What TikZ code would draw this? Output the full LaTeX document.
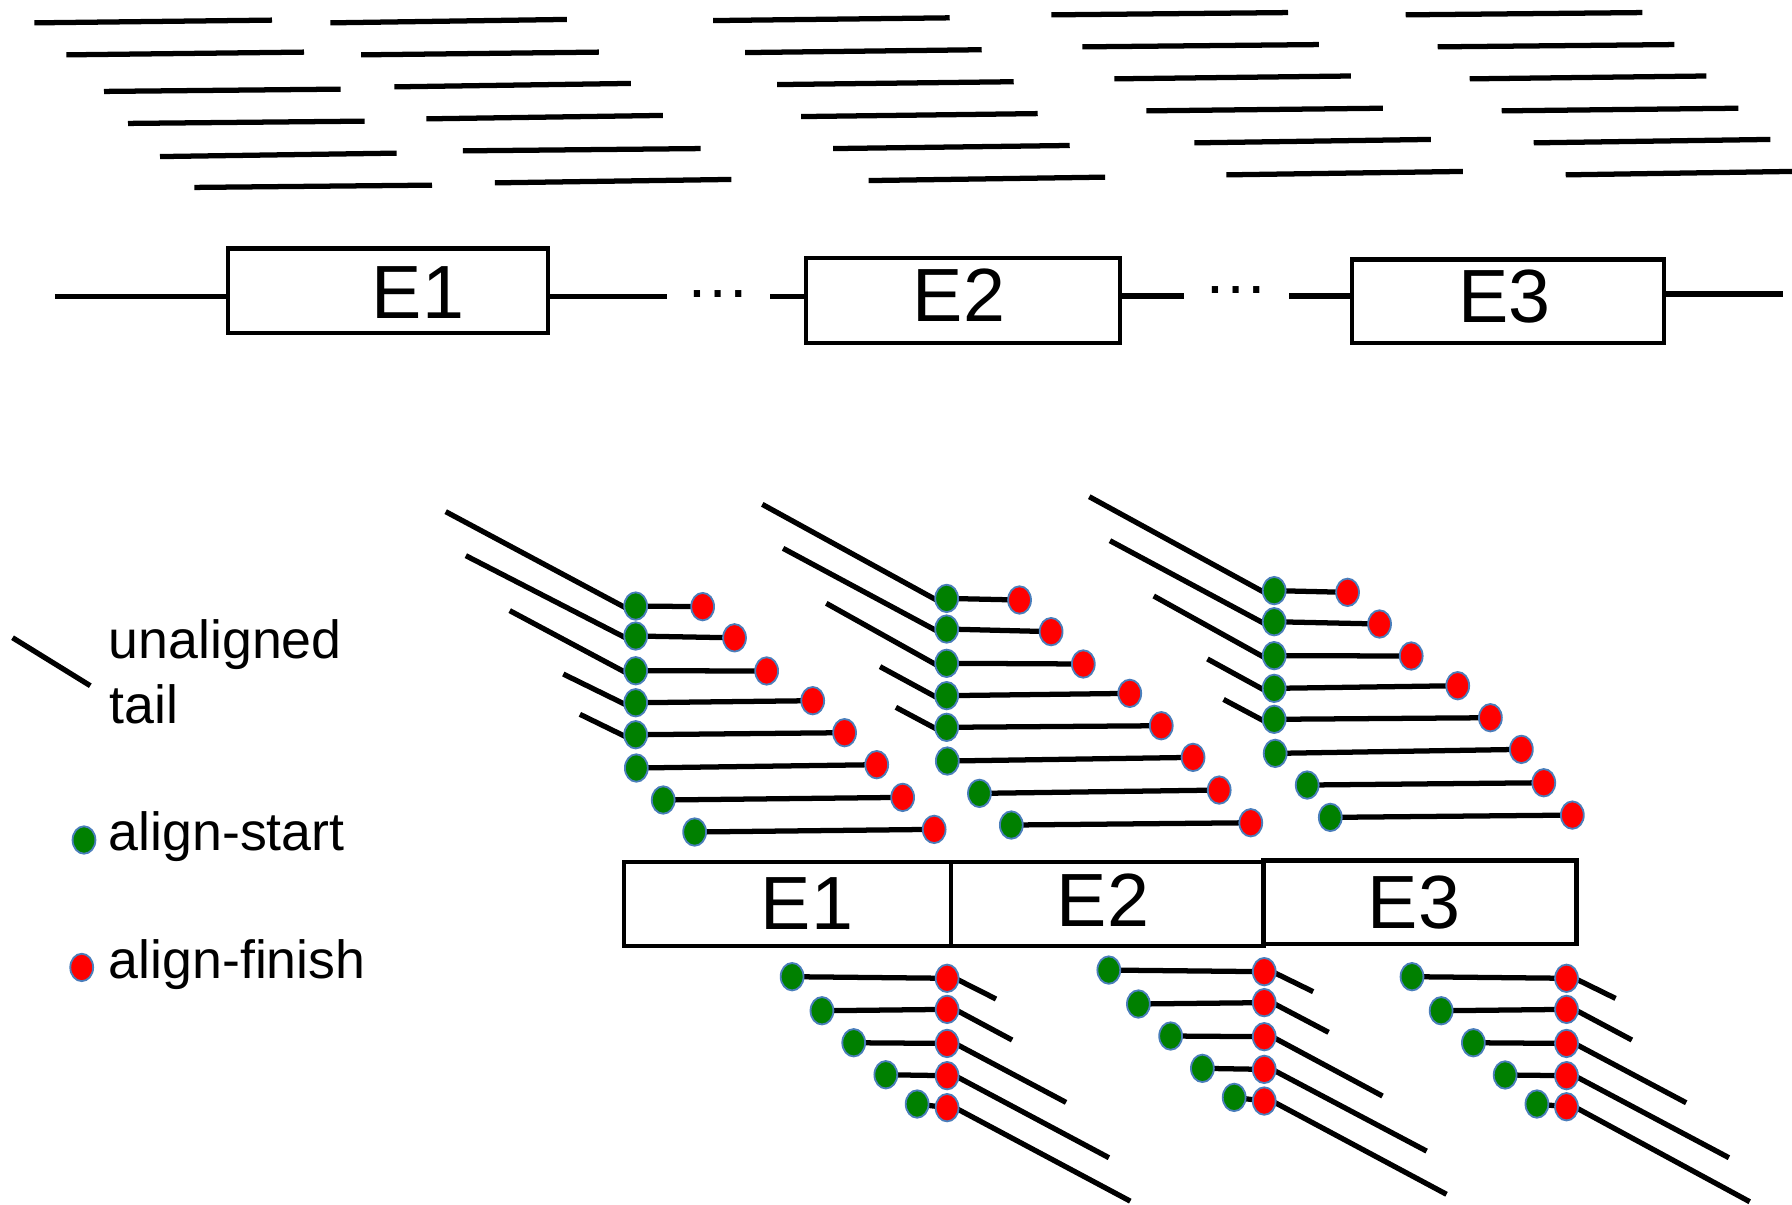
\documentclass[tikz,border=0pt]{standalone}
\usepackage{fontspec}
\setmainfont{Liberation Sans}
\usetikzlibrary{shapes.geometric,backgrounds}
\definecolor{dotgreen}{RGB}{0,128,0}
\definecolor{dotred}{RGB}{255,0,0}
\definecolor{dotrim}{RGB}{74,126,187}
\begin{document}
\begin{tikzpicture}[x=1pt,y=-1pt,
  seg/.style={line width=4.6pt},
  ebox/.style={draw,line width=3.8pt,inner sep=0pt,minimum height=74pt},
  elab/.style={font=\fontsize{66}{70}\selectfont,inner sep=0pt,anchor=base},
  ellip/.style={font=\fontsize{57}{60}\selectfont,inner sep=0pt,anchor=base},
  dotbase/.style={ellipse,draw=dotrim,line width=1.6pt,minimum width=20pt,minimum height=24pt,inner sep=0pt},
  gdot/.style={dotbase,fill=dotgreen},
  rdot/.style={dotbase,fill=dotred},
  legtext/.style={font=\fontsize{47}{57}\selectfont,inner sep=0pt,anchor=base west}]
\useasboundingbox (0,0) rectangle (1568,1054);

% ---------- unaligned reads (top) ----------
\foreach \xa/\ya/\xb/\yb in {
  30/20/238/17.6, 58/48/266/45.6, 91/80/298/78, 112/108/319/106, 140/137/347/134, 170/164/378/162,
  289/20/496/17, 316/48/524/45.6, 345/76/552/73, 373/104/580/101, 405/132/613/130, 433/160/640/157,
  624/18/831/15.6, 652/46/859/43.5, 680/74/887/71.5, 701/102/908/99.4, 729/130/936/127.3, 760/158/967/155,
  920/13/1127/11, 947/41/1154/39, 975/69/1182/66.5, 1003/97/1210/94.7, 1045/125/1252/122, 1073/153/1280/150,
  1230/13/1437/11, 1258/41/1465/39, 1286/69/1493/66.5, 1314/97/1521/94.7, 1342/125/1549/122, 1370/153/1568/150}
  \draw[seg] (\xa,\ya) -- (\xb,\yb);

% ---------- genome line with exons ----------
\node[ebox,minimum width=280pt] (E1t) at (339.5,254.5) {};
\node[ebox,minimum width=275pt] (E2t) at (842.5,263) {};
\node[ebox,minimum width=273pt,minimum height=73pt] (E3t) at (1319.5,263.5) {};
\node[elab] (E1tl) at (365.7,278.5) {E1};
\node[elab] (E2tl) at (839.0,281.5) {E2};
\node[elab] (E3tl) at (1316.2,282.5) {E3};
\coordinate (L0) at (48,259.6);
\coordinate (L1) at (584,259.6);
\coordinate (L2) at (674,259.6);
\coordinate (L3) at (1036,259);
\coordinate (L4) at (1128,259);
\coordinate (L5) at (1560,257.3);
\draw[seg] (L0) -- (L0 -| E1t.west);
\draw[seg] (E1t.east |- L1) -- (L1);
\node[ellip] (dots1) at (628.5,260) {…};
\draw[seg] (L2) -- (L2 -| E2t.west);
\draw[seg] (E2t.east |- L3) -- (L3);
\node[ellip] (dots2) at (1081.5,257) {…};
\draw[seg] (L4) -- (L4 -| E3t.west);
\draw[seg] (E3t.east |- L5) -- (L5);

% ---------- transcript exons ----------
\node[ebox,minimum width=286pt] (E1b) at (689,791) {};
\node[ebox,minimum width=273.5pt] (E2b) at (968.8,791) {};
\node[ebox,minimum width=274pt,minimum height=73pt] (E3b) at (1242.5,789.5) {};
\node[elab] (E1bl) at (706.2,813.2) {E1};
\node[elab] (E2bl) at (965.2,810.3) {E2};
\node[elab] (E3bl) at (1237.2,812.3) {E3};

% ---------- aligned reads above: group a (E1) ----------
\foreach \n/\x/\y in {1/556.2/530.3,2/556.2/556.5,3/556.2/586.9,4/556.2/614.9,5/556.2/642.9,6/556.8/672,7/580.3/700,8/607.8/728}
  \node[gdot] (ga\n) at (\x,\y) {};
\foreach \n/\x/\y in {1/614.8/530.8,2/642.7/558.1,3/670.8/587.1,4/711.1/613.1,5/739/641.1,6/767.1/669.1,7/789.8/697.7,8/817.4/725.7}
  \node[rdot] (ra\n) at (\x,\y) {};
\foreach \n/\x/\y in {1/390/447.7,2/407.6/486.2,3/446/534.3,4/492.9/589.8,5/507.4/625}
  \coordinate (ta\n) at (\x,\y);
% group b (E2)
\foreach \n/\x/\y in {1/828.3/523.6,2/828.3/550.4,3/828.3/580.4,4/828.3/608.7,5/828.3/636.4,6/828.9/665.9,7/857/694.2,8/884.9/721.9}
  \node[gdot] (gb\n) at (\x,\y) {};
\foreach \n/\x/\y in {1/892.1/525,2/919.7/552.7,3/947.9/581,4/988.5/606.7,5/1016.1/635,6/1043.9/662.7,7/1066.8/691.3,8/1094.4/719.9}
  \node[rdot] (rb\n) at (\x,\y) {};
\foreach \n/\x/\y in {1/667/441.3,2/685.2/479.8,3/723/527.9,4/770/583.3,5/783.9/618.9}
  \coordinate (tb\n) at (\x,\y);
% group c (E3)
\foreach \n/\x/\y in {1/1114.9/516.8,2/1114.9/544,3/1114.9/573.7,4/1114.9/602.3,5/1114.9/629.4,6/1115.8/659.2,7/1143.8/686.9,8/1164/715.2}
  \node[gdot] (gc\n) at (\x,\y) {};
\foreach \n/\x/\y in {1/1179.1/518.3,2/1207.1/546,3/1234.8/574,4/1275.5/600,5/1304.1/628,6/1331.2/655.7,7/1350.8/684.9,8/1375.8/713.2}
  \node[rdot] (rc\n) at (\x,\y) {};
\foreach \n/\x/\y in {1/953.1/434.6,2/971.2/473.1,3/1009.5/521.5,4/1056.5/576.6,5/1070.6/612}
  \coordinate (tc\n) at (\x,\y);

% ---------- aligned reads below ----------
\foreach \n/\x/\y in {1/693.1/854.6,2/719.2/884.4,3/747/912.4,4/775.1/940.4,5/802.5/966}
  \node[gdot] (gd\n) at (\x,\y) {};
\foreach \n/\y in {1/856,2/883.2,3/913,4/941.2,5/969.2}
  \node[rdot] (rd\n) at (828.7,\y) {};
\foreach \n/\x/\y in {1/871.5/874.1,2/885.6/910,3/932.8/964.6,4/970.3/1013,5/989/1051}
  \coordinate (td\n) at (\x,\y);
\foreach \n/\x/\y in {1/970.2/848.8,2/996.1/878.5,3/1024.3/906.5,4/1052.1/934.8,5/1079.9/960.2}
  \node[gdot] (ge\n) at (\x,\y) {};
\foreach \n/\y in {1/850.2,2/877.3,3/907.1,4/935.7,5/963.4}
  \node[rdot] (re\n) at (1106.2,\y) {};
\foreach \n/\x/\y in {1/1149/867.7,2/1162.5/903.3,3/1209.7/959,4/1248.3/1007.2,5/1265.7/1045}
  \coordinate (te\n) at (\x,\y);
\foreach \n/\x/\y in {1/1235.5/854.6,2/1261/884.4,3/1289.2/912.4,4/1317/940.6,5/1344.8/966}
  \node[gdot] (gf\n) at (\x,\y) {};
\foreach \n/\y in {1/856,2/883.2,3/913,4/941.2,5/968.4}
  \node[rdot] (rf\n) at (1370.7,\y) {};
\foreach \n/\x/\y in {1/1413.6/873.6,2/1427.9/910,3/1475.4/964.9,4/1512.8/1013,5/1531/1051.5}
  \coordinate (tf\n) at (\x,\y);

% ---------- legend ----------
\coordinate (lt1) at (11,558);
\coordinate (lt2) at (79,600);
\draw[seg] (lt1) -- (lt2);
\node[legtext] (lunal) at (95,576) {unaligned};
\node[legtext] (ltail) at (96,633) {tail};
\node[gdot] (lgdot) at (73.5,735) {};
\node[legtext] (lstart) at (95,744) {align-start};
\node[rdot] (lrdot) at (71.5,846.5) {};
\node[legtext] (lfinish) at (95,856) {align-finish};

% ---------- connectors under the dots ----------
\begin{scope}[on background layer]
  \fill[white] (0,0) rectangle (1568,1054);
  \foreach \g in {a,b,c}{
    \foreach \n in {1,...,8}
      \draw[seg] (g\g\n.center) -- (r\g\n.center);
    \foreach \n in {1,...,5}
      \draw[seg] (t\g\n) -- ([xshift=-6pt,yshift=-3pt]g\g\n.center);
  }
  \foreach \g in {d,e,f}{
    \foreach \n in {1,...,5}{
      \draw[seg] (g\g\n.center) -- (r\g\n.center);
      \draw[seg] ([xshift=5pt,yshift=1pt]r\g\n.center) -- (t\g\n);
    }
  }
\end{scope}
\end{tikzpicture}
\end{document}
